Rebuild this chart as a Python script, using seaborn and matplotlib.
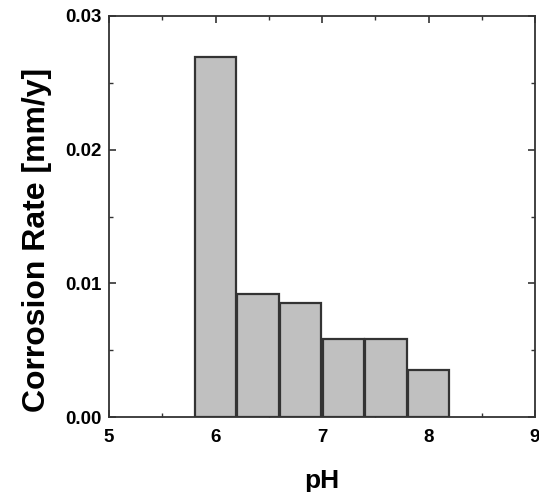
import matplotlib
matplotlib.use("Agg")
import matplotlib.pyplot as plt
import seaborn as sns
import pandas as pd
from matplotlib.ticker import MultipleLocator

ph = [6.0, 6.4, 6.8, 7.2, 7.6, 8.0]
rate = [0.0269, 0.0092, 0.0085, 0.0058, 0.0058, 0.0035]

sns.set_theme(style="ticks")
plt.rcParams['font.family'] = ['Liberation Sans', 'DejaVu Sans']
plt.rcParams['text.color'] = 'black'
plt.rcParams['axes.labelcolor'] = 'black'
plt.rcParams['xtick.labelcolor'] = 'black'
plt.rcParams['ytick.labelcolor'] = 'black'

fig = plt.figure(figsize=(5.39, 4.92), dpi=100)
ax = fig.add_axes([109/539, 1-417/492, (535-109)/539, (417-16)/492])

df = pd.DataFrame({"pH": ph, "rate": rate})
sns.barplot(data=df, x="pH", y="rate", native_scale=True, width=0.97,
            color="#c0c0c0", saturation=1, edgecolor="#333333", linewidth=1.6, ax=ax)

ax.set_xlim(5, 9)
ax.set_ylim(0, 0.03)
ax.xaxis.set_major_locator(MultipleLocator(1))
ax.xaxis.set_minor_locator(MultipleLocator(0.5))
ax.yaxis.set_major_locator(MultipleLocator(0.01))
ax.yaxis.set_minor_locator(MultipleLocator(0.005))
ax.yaxis.set_major_formatter(matplotlib.ticker.FormatStrFormatter('%.2f'))
ax.tick_params(which='both', direction='in', top=True, right=True, color='#333333')
ax.tick_params(which='major', length=5, width=1.2, labelsize=13.5, pad=5)
ax.tick_params(axis='x', which='major', pad=9)
ax.tick_params(which='minor', length=3, width=1.0)
for lab in ax.get_xticklabels() + ax.get_yticklabels():
    lab.set_fontweight('bold')
for sp in ax.spines.values():
    sp.set_linewidth(1.3)
    sp.set_color('#333333')

ax.set_xlabel("pH", fontsize=19, fontweight='bold', labelpad=16)
ax.set_ylabel("Corrosion Rate [mm/y]", fontsize=23, fontweight='bold')
ax.yaxis.set_label_coords(-(109-52)/426, 1-(240-16)/401)

fig.savefig("out.png", dpi=100)
